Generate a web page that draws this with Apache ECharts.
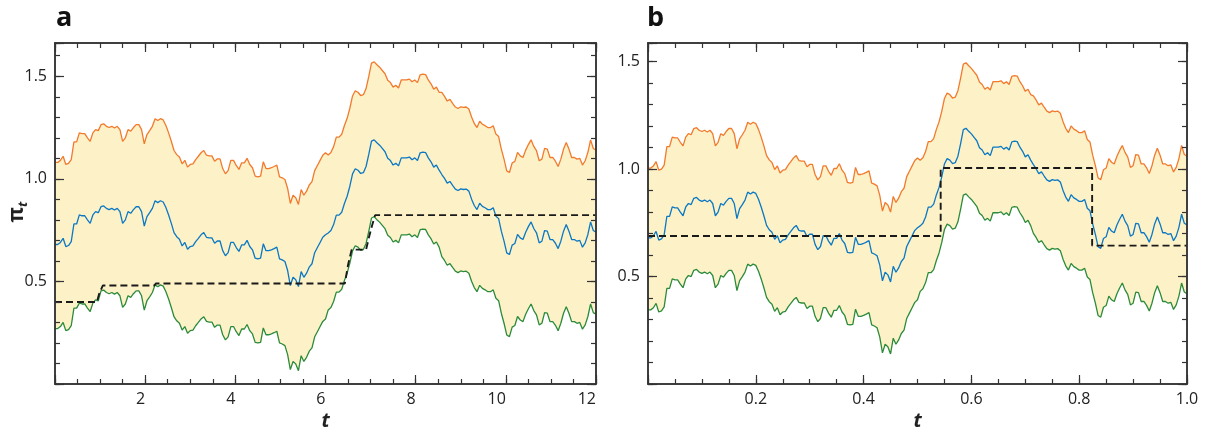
<!DOCTYPE html>
<html><head><meta charset="utf-8">
<script src="https://cdn.jsdelivr.net/npm/echarts@6/dist/echarts.min.js"></script>
<style>html,body{margin:0;padding:0;background:#fff}#c{width:1207px;height:431px}</style>
</head><body><div id="c"></div>
<script>
// time grids (panel a: t in 0..12, panel b: t in 0..1)
const tA=[0,0.06,0.12,0.18,0.24,0.3,0.36,0.42,0.48,0.54,
0.6,0.66,0.72,0.78,0.84,0.9,0.96,1.02,1.08,1.14,
1.2,1.26,1.32,1.38,1.44,1.5,1.56,1.62,1.68,1.74,
1.8,1.86,1.92,1.98,2.04,2.1,2.16,2.22,2.28,2.34,
2.4,2.46,2.52,2.58,2.64,2.7,2.76,2.82,2.88,2.94,
3,3.06,3.12,3.18,3.24,3.3,3.36,3.42,3.48,3.54,
3.6,3.66,3.72,3.78,3.84,3.9,3.96,4.02,4.08,4.14,
4.2,4.26,4.32,4.38,4.44,4.5,4.56,4.62,4.68,4.74,
4.8,4.86,4.92,4.98,5.04,5.1,5.16,5.22,5.28,5.34,
5.4,5.46,5.52,5.58,5.64,5.7,5.76,5.82,5.88,5.94,
6,6.06,6.12,6.18,6.24,6.3,6.36,6.42,6.48,6.54,
6.6,6.66,6.72,6.78,6.84,6.9,6.96,7.02,7.08,7.14,
7.2,7.26,7.32,7.38,7.44,7.5,7.56,7.62,7.68,7.74,
7.8,7.86,7.92,7.98,8.04,8.1,8.16,8.22,8.28,8.34,
8.4,8.46,8.52,8.58,8.64,8.7,8.76,8.82,8.88,8.94,
9,9.06,9.12,9.18,9.24,9.3,9.36,9.42,9.48,9.54,
9.6,9.66,9.72,9.78,9.84,9.9,9.96,10.02,10.08,10.14,
10.2,10.26,10.32,10.38,10.44,10.5,10.56,10.62,10.68,10.74,
10.8,10.86,10.92,10.98,11.04,11.1,11.16,11.22,11.28,11.34,
11.4,11.46,11.52,11.58,11.64,11.7,11.76,11.82,11.88,11.94,
12];
const tB=[0,0.005,0.01,0.015,0.02,0.025,0.03,0.035,0.04,0.045,
0.05,0.055,0.06,0.065,0.07,0.075,0.08,0.085,0.09,0.095,
0.1,0.105,0.11,0.115,0.12,0.125,0.13,0.135,0.14,0.145,
0.15,0.155,0.16,0.165,0.17,0.175,0.18,0.185,0.19,0.195,
0.2,0.205,0.21,0.215,0.22,0.225,0.23,0.235,0.24,0.245,
0.25,0.255,0.26,0.265,0.27,0.275,0.28,0.285,0.29,0.295,
0.3,0.305,0.31,0.315,0.32,0.325,0.33,0.335,0.34,0.345,
0.35,0.355,0.36,0.365,0.37,0.375,0.38,0.385,0.39,0.395,
0.4,0.405,0.41,0.415,0.42,0.425,0.43,0.435,0.44,0.445,
0.45,0.455,0.46,0.465,0.47,0.475,0.48,0.485,0.49,0.495,
0.5,0.505,0.51,0.515,0.52,0.525,0.53,0.535,0.54,0.545,
0.55,0.555,0.56,0.565,0.57,0.575,0.58,0.585,0.59,0.595,
0.6,0.605,0.61,0.615,0.62,0.625,0.63,0.635,0.64,0.645,
0.65,0.655,0.66,0.665,0.67,0.675,0.68,0.685,0.69,0.695,
0.7,0.705,0.71,0.715,0.72,0.725,0.73,0.735,0.74,0.745,
0.75,0.755,0.76,0.765,0.77,0.775,0.78,0.785,0.79,0.795,
0.8,0.805,0.81,0.815,0.82,0.825,0.83,0.835,0.84,0.845,
0.85,0.855,0.86,0.865,0.87,0.875,0.88,0.885,0.89,0.895,
0.9,0.905,0.91,0.915,0.92,0.925,0.93,0.935,0.94,0.945,
0.95,0.955,0.96,0.965,0.97,0.975,0.98,0.985,0.99,0.995,
1];
// blue (posterior mean) path, identical in both panels
const blueMid=[0.68,0.68,0.69,0.71,0.67,0.675,0.694,0.78,0.78,0.824,
0.82,0.82,0.8,0.783,0.824,0.84,0.835,0.864,0.868,0.856,
0.85,0.856,0.848,0.856,0.84,0.783,0.8,0.84,0.832,0.85,
0.864,0.864,0.84,0.77,0.816,0.835,0.856,0.893,0.884,0.893,
0.887,0.86,0.824,0.783,0.738,0.718,0.706,0.673,0.69,0.657,
0.67,0.673,0.694,0.71,0.727,0.738,0.715,0.712,0.712,0.686,
0.697,0.697,0.65,0.625,0.64,0.69,0.69,0.665,0.646,0.678,
0.678,0.7,0.67,0.654,0.613,0.61,0.613,0.683,0.65,0.65,
0.654,0.66,0.667,0.61,0.605,0.597,0.553,0.48,0.52,0.508,
0.475,0.548,0.52,0.54,0.57,0.586,0.64,0.665,0.69,0.715,
0.727,0.736,0.748,0.777,0.823,0.823,0.837,0.88,0.915,0.964,
1.024,1.049,1.042,1.026,1.03,1.06,1.119,1.184,1.19,1.176,
1.164,1.148,1.132,1.1,1.089,1.067,1.076,1.063,1.102,1.102,
1.102,1.106,1.093,1.102,1.089,1.127,1.13,1.128,1.102,1.083,
1.057,1.067,1.042,1.021,1.002,0.979,0.987,0.968,0.95,0.943,
0.951,0.948,0.95,0.94,0.901,0.87,0.85,0.881,0.866,0.859,
0.85,0.85,0.859,0.818,0.806,0.745,0.696,0.639,0.631,0.677,
0.685,0.729,0.712,0.704,0.74,0.767,0.79,0.758,0.737,0.688,
0.696,0.748,0.745,0.704,0.704,0.686,0.66,0.696,0.745,0.777,
0.745,0.704,0.704,0.696,0.7,0.667,0.688,0.729,0.79,0.748,
0.74];
const upperA=[1.08,1.08,1.09,1.11,1.07,1.075,1.094,1.18,1.18,1.224,
1.22,1.22,1.2,1.183,1.224,1.24,1.235,1.264,1.268,1.256,
1.25,1.256,1.248,1.256,1.24,1.183,1.2,1.24,1.232,1.25,
1.264,1.264,1.24,1.17,1.216,1.235,1.256,1.293,1.284,1.293,
1.287,1.26,1.224,1.183,1.138,1.118,1.106,1.073,1.09,1.057,
1.07,1.073,1.094,1.11,1.127,1.138,1.115,1.112,1.112,1.086,
1.097,1.097,1.05,1.025,1.04,1.09,1.09,1.065,1.046,1.078,
1.078,1.1,1.07,1.054,1.013,1.01,1.013,1.083,1.05,1.05,
1.054,1.06,1.067,1.01,1.005,0.997,0.953,0.88,0.92,0.908,
0.875,0.948,0.92,0.94,0.97,0.986,1.04,1.065,1.09,1.115,
1.127,1.116,1.128,1.157,1.203,1.203,1.217,1.26,1.295,1.344,
1.404,1.429,1.422,1.406,1.41,1.44,1.499,1.564,1.57,1.556,
1.544,1.528,1.512,1.48,1.469,1.447,1.456,1.443,1.482,1.482,
1.482,1.486,1.473,1.482,1.469,1.507,1.51,1.508,1.482,1.463,
1.437,1.447,1.422,1.421,1.402,1.379,1.387,1.368,1.35,1.343,
1.351,1.348,1.35,1.34,1.301,1.27,1.25,1.281,1.266,1.259,
1.25,1.25,1.259,1.218,1.206,1.145,1.096,1.039,1.031,1.077,
1.085,1.129,1.112,1.104,1.14,1.167,1.19,1.158,1.137,1.088,
1.096,1.148,1.145,1.104,1.104,1.086,1.06,1.096,1.145,1.177,
1.145,1.104,1.104,1.096,1.1,1.067,1.088,1.129,1.19,1.148,
1.14];
const lowerA=[0.27,0.27,0.28,0.3,0.26,0.265,0.284,0.37,0.37,0.394,
0.39,0.39,0.37,0.353,0.394,0.41,0.405,0.454,0.458,0.446,
0.44,0.446,0.438,0.446,0.43,0.373,0.39,0.43,0.422,0.44,
0.454,0.454,0.43,0.36,0.406,0.425,0.446,0.483,0.474,0.483,
0.477,0.45,0.414,0.373,0.328,0.308,0.296,0.263,0.28,0.247,
0.26,0.263,0.284,0.3,0.317,0.328,0.305,0.302,0.302,0.276,
0.287,0.287,0.24,0.215,0.23,0.28,0.28,0.255,0.236,0.268,
0.268,0.29,0.26,0.244,0.203,0.2,0.203,0.273,0.24,0.24,
0.244,0.25,0.257,0.2,0.195,0.187,0.143,0.07,0.11,0.098,
0.065,0.138,0.11,0.13,0.16,0.176,0.23,0.255,0.28,0.305,
0.317,0.361,0.373,0.402,0.448,0.448,0.462,0.505,0.54,0.589,
0.649,0.674,0.667,0.651,0.655,0.685,0.744,0.809,0.815,0.801,
0.789,0.773,0.757,0.725,0.714,0.692,0.701,0.688,0.727,0.727,
0.727,0.731,0.718,0.727,0.714,0.752,0.755,0.753,0.727,0.708,
0.682,0.692,0.667,0.621,0.602,0.579,0.587,0.568,0.55,0.543,
0.551,0.548,0.55,0.54,0.501,0.47,0.45,0.481,0.466,0.459,
0.45,0.45,0.459,0.418,0.406,0.345,0.296,0.239,0.231,0.277,
0.285,0.329,0.312,0.304,0.34,0.367,0.39,0.358,0.337,0.288,
0.296,0.348,0.345,0.304,0.304,0.286,0.26,0.296,0.345,0.377,
0.345,0.304,0.304,0.296,0.3,0.267,0.288,0.329,0.39,0.348,
0.34];
const upperB=[1.005,1.005,1.015,1.035,0.995,1,1.019,1.105,1.105,1.149,
1.145,1.145,1.125,1.108,1.149,1.165,1.16,1.189,1.193,1.181,
1.175,1.181,1.173,1.181,1.165,1.108,1.125,1.165,1.157,1.175,
1.189,1.189,1.165,1.095,1.141,1.16,1.181,1.218,1.209,1.218,
1.212,1.185,1.149,1.108,1.063,1.043,1.031,0.998,1.015,0.982,
0.995,0.998,1.019,1.035,1.052,1.063,1.04,1.037,1.037,1.011,
1.022,1.022,0.975,0.95,0.965,1.015,1.015,0.99,0.971,1.003,
1.003,1.025,0.995,0.979,0.938,0.935,0.938,1.008,0.975,0.975,
0.979,0.985,0.992,0.935,0.93,0.922,0.878,0.805,0.845,0.833,
0.8,0.873,0.845,0.865,0.895,0.911,0.965,0.99,1.015,1.04,
1.052,1.041,1.053,1.082,1.128,1.128,1.142,1.185,1.22,1.269,
1.329,1.354,1.347,1.331,1.335,1.365,1.424,1.489,1.495,1.481,
1.469,1.453,1.437,1.405,1.394,1.372,1.381,1.368,1.407,1.407,
1.407,1.411,1.398,1.407,1.394,1.432,1.435,1.433,1.407,1.388,
1.362,1.372,1.347,1.341,1.322,1.299,1.307,1.288,1.27,1.263,
1.271,1.268,1.27,1.26,1.221,1.19,1.17,1.201,1.186,1.179,
1.17,1.17,1.179,1.138,1.126,1.065,1.016,0.959,0.951,0.997,
1.005,1.049,1.032,1.024,1.06,1.087,1.11,1.078,1.057,1.008,
1.016,1.068,1.065,1.024,1.024,1.006,0.98,1.016,1.065,1.097,
1.065,1.024,1.024,1.016,1.02,0.987,1.008,1.049,1.11,1.068,
1.06];
const lowerB=[0.345,0.345,0.355,0.375,0.335,0.34,0.359,0.445,0.445,0.489,
0.485,0.485,0.465,0.448,0.489,0.505,0.5,0.529,0.533,0.521,
0.515,0.521,0.513,0.521,0.505,0.448,0.465,0.505,0.497,0.515,
0.529,0.529,0.505,0.435,0.481,0.5,0.521,0.558,0.549,0.558,
0.552,0.525,0.489,0.448,0.403,0.383,0.371,0.338,0.355,0.322,
0.335,0.338,0.359,0.375,0.392,0.403,0.38,0.377,0.377,0.351,
0.362,0.362,0.315,0.29,0.305,0.355,0.355,0.33,0.311,0.343,
0.343,0.365,0.335,0.319,0.278,0.275,0.278,0.348,0.315,0.315,
0.319,0.325,0.332,0.275,0.27,0.262,0.218,0.145,0.185,0.173,
0.14,0.213,0.185,0.205,0.235,0.251,0.305,0.33,0.355,0.38,
0.392,0.431,0.443,0.472,0.518,0.518,0.532,0.575,0.61,0.659,
0.719,0.744,0.737,0.721,0.725,0.755,0.814,0.879,0.885,0.871,
0.859,0.843,0.827,0.795,0.784,0.762,0.771,0.758,0.797,0.797,
0.797,0.801,0.788,0.797,0.784,0.822,0.825,0.823,0.797,0.778,
0.752,0.762,0.737,0.701,0.682,0.659,0.667,0.648,0.63,0.623,
0.631,0.628,0.63,0.62,0.581,0.55,0.53,0.561,0.546,0.539,
0.53,0.53,0.539,0.498,0.486,0.425,0.376,0.319,0.311,0.357,
0.365,0.409,0.392,0.384,0.42,0.447,0.47,0.438,0.417,0.368,
0.376,0.428,0.425,0.384,0.384,0.366,0.34,0.376,0.425,0.457,
0.425,0.384,0.384,0.376,0.38,0.347,0.368,0.409,0.47,0.428,
0.42];
// dashed step lines
const dashTA=[0,0.93,0.98,1.06,2.2,2.24,6.43,6.5,6.58,6.9,6.97,7.03,7.1,12];
const dashVA=[0.4,0.4,0.44,0.48,0.48,0.49,0.49,0.58,0.655,0.655,0.72,0.77,0.823,0.823];
const dashTB=[0,0.543,0.543,0.824,0.824,1];
const dashVB=[0.689,0.689,1.005,1.005,0.644,0.644];
// axis ranges / tick steps
const xRangeA=[0,12], xMajorA=2, xMinorA=0.5;
const xRangeB=[0,1], xMajorB=0.2, xMinorB=0.05;
const yRangeA=[0,1.662], yRangeB=[0,1.587], yMajor=0.5, yMinor=0.1;

const FONT='"Open Sans","Noto Sans",sans-serif';
const AX='#333';
const pairs=(xs,ys)=>xs.map((x,i)=>[x,ys[i]]);

function makeX(grid,range,major,minor,labelCfg,name){
  const base={type:'value',gridIndex:grid,min:range[0],max:range[1],z:10,splitLine:{show:false},
    axisLine:{show:true,onZero:false,lineStyle:{color:AX,width:1.5}}};
  const tick=(len)=>({show:true,inside:true,length:len,lineStyle:{color:AX,width:1.2}});
  return [
    Object.assign({},base,{position:'bottom',interval:major,axisTick:tick(9),axisLabel:labelCfg,
      name:name,nameLocation:'middle',nameGap:27,nameMoveOverlap:false,
      nameTextStyle:{fontSize:20,fontWeight:'bold',fontStyle:'italic',color:'#222',fontFamily:FONT}}),
    Object.assign({},base,{position:'bottom',interval:minor,axisTick:tick(5),axisLabel:{show:false}}),
    Object.assign({},base,{position:'top',interval:major,axisTick:tick(9),axisLabel:{show:false}}),
    Object.assign({},base,{position:'top',interval:minor,axisTick:tick(5),axisLabel:{show:false}})
  ];
}
function makeY(grid,range){
  const base={type:'value',gridIndex:grid,min:range[0],max:range[1],z:10,splitLine:{show:false},
    axisLine:{show:true,onZero:false,lineStyle:{color:AX,width:1.5}}};
  const tick=(len)=>({show:true,inside:true,length:len,lineStyle:{color:AX,width:1.2}});
  return [
    Object.assign({},base,{position:'left',interval:yMajor,axisTick:tick(9),
      axisLabel:{show:true,margin:8,fontSize:16,color:'#222',fontFamily:FONT,
        formatter:v=>(v>0.01 && Math.abs(v*2-Math.round(v*2))<1e-6)?v.toFixed(1):''}}),
    Object.assign({},base,{position:'left',interval:yMinor,axisTick:tick(5),axisLabel:{show:false}}),
    Object.assign({},base,{position:'right',interval:yMajor,axisTick:tick(9),axisLabel:{show:false}}),
    Object.assign({},base,{position:'right',interval:yMinor,axisTick:tick(5),axisLabel:{show:false}})
  ];
}
const labA={show:true,margin:7,fontSize:16,color:'#222',fontFamily:FONT,align:'right',
  formatter:v=>v===0?'':String(v)};
const labB={show:true,margin:7,fontSize:16,color:'#222',fontFamily:FONT,
  formatter:v=>v===0?'':v.toFixed(1)};

function panelSeries(xi,yi,ts,up,lo,mid,dT,dV){
  const common={type:'line',xAxisIndex:xi,yAxisIndex:yi,symbol:'none',silent:true,animation:false};
  return [
    Object.assign({},common,{data:pairs(ts,up),lineStyle:{opacity:0},areaStyle:{color:'#FDF1C8',opacity:1}}),
    Object.assign({},common,{data:pairs(ts,lo),lineStyle:{opacity:0},areaStyle:{color:'#ffffff',opacity:1}}),
    Object.assign({},common,{data:pairs(ts,up),lineStyle:{color:'#F27A2C',width:1.3}}),
    Object.assign({},common,{data:pairs(ts,lo),lineStyle:{color:'#2B8B39',width:1.3}}),
    Object.assign({},common,{data:pairs(ts,mid),lineStyle:{color:'#0A78C3',width:1.3}}),
    Object.assign({},common,{data:pairs(dT,dV),lineStyle:{color:'#1a1a1a',width:1.9,type:[7,4]}})
  ];
}

const chart=echarts.init(document.getElementById('c'),null,{renderer:'canvas'});
chart.setOption({
  animation:false,
  backgroundColor:'#fff',
  grid:[{left:55,top:43,width:541,height:341,containLabel:false,outerBoundsMode:'none'},
        {left:648,top:43,width:539,height:341,containLabel:false,outerBoundsMode:'none'}],
  xAxis:[].concat(makeX(0,xRangeA,xMajorA,xMinorA,labA,'t'),makeX(1,xRangeB,xMajorB,xMinorB,labB,'t')),
  yAxis:[].concat(makeY(0,yRangeA),makeY(1,yRangeB)),
  graphic:[
    {type:'text',left:56,top:5,style:{text:'a',font:'bold 27px "Open Sans",sans-serif',fill:'#111'}},
    {type:'text',left:647,top:5,style:{text:'b',font:'bold 27px "Open Sans",sans-serif',fill:'#111'}},
    {type:'text',x:17,y:212,rotation:Math.PI/2,style:{text:'{p|π}{s|t}',align:'center',verticalAlign:'middle',
      rich:{p:{fontSize:21,fontWeight:'bold',lineHeight:26,fontFamily:FONT,fill:'#222'},
            s:{fontSize:13,fontWeight:'bold',fontStyle:'italic',lineHeight:14,verticalAlign:'bottom',fontFamily:FONT,fill:'#222'}}}}
  ],
  series:[].concat(
    panelSeries(0,0,tA,upperA,lowerA,blueMid,dashTA,dashVA),
    panelSeries(4,4,tB,upperB,lowerB,blueMid,dashTB,dashVB)
  )
});
</script></body></html>
